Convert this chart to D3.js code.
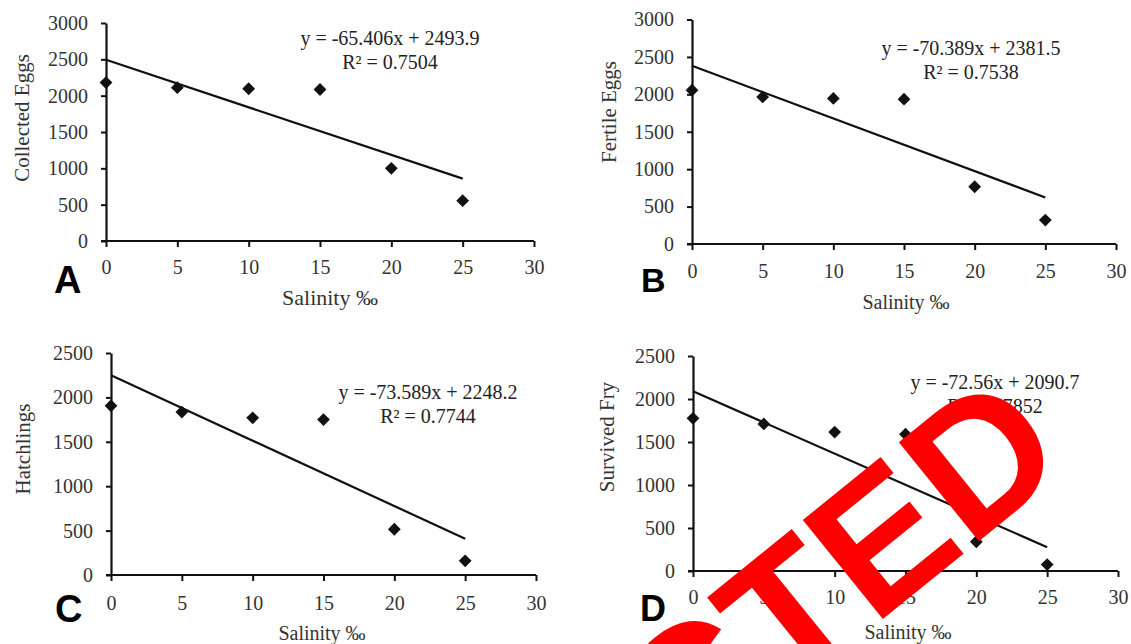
<!DOCTYPE html>
<html>
<head>
<meta charset="utf-8">
<script src="https://cdn.jsdelivr.net/npm/d3@7"></script>
<style>
  body { margin: 0; background: #fff; }
  svg { display: block; }
</style>
</head>
<body>
<div id="chart"></div>
<script>
// data
const salinity = [0, 5, 10, 15, 20, 25];
const collectedEggs = [2180, 2110, 2095, 2085, 1000, 555];
const fertileEggs = [2055, 1965, 1945, 1935, 765, 320];
const hatchlings = [1905, 1835, 1770, 1750, 515, 160];
const survivedFry = [1775, 1710, 1615, 1590, 340, 75];

const panelLetters = ['A', 'B', 'C', 'D'];
const yTitles = ['Collected Eggs', 'Fertile Eggs', 'Hatchlings', 'Survived Fry'];
const slopes = [-65.406, -70.389, -73.589, -72.56];
const intercepts = [2493.9, 2381.5, 2248.2, 2090.7];
const equations = ['y = -65.406x + 2493.9', 'y = -70.389x + 2381.5', 'y = -73.589x + 2248.2', 'y = -72.56x + 2090.7'];
const rSquared = ['R\u00b2 = 0.7504', 'R\u00b2 = 0.7538', 'R\u00b2 = 0.7744', 'R\u00b2 = 0.7852'];
const yMaxes = [3000, 3000, 2500, 2500];
const xTicks = [0, 5, 10, 15, 20, 25, 30];
const stampText = 'RETRACTED';

const series = [collectedEggs, fertileEggs, hatchlings, survivedFry];

// pixel layout of each panel (axis origin, axis ends, text spots)
const layout = [
  { x0: 106, x1: 534, y0: 241, y1: 23, pad: 12.5, yTitleX: 22, yTitleY: 118, xTitleX: 330, xTitleY: 297, xTitleSize: 22, eqX: 390, eqY: 38, letterX: 54, letterY: 293, letterSize: 38 },
  { x0: 692, x1: 1116, y0: 244, y1: 19.5, pad: 13.5, yTitleX: 609, yTitleY: 112, xTitleX: 906, xTitleY: 302, xTitleSize: 20, eqX: 971, eqY: 48, letterX: 641, letterY: 292, letterSize: 34 },
  { x0: 111, x1: 536, y0: 575, y1: 353, pad: 14.5, yTitleX: 23, yTitleY: 449, xTitleX: 322, xTitleY: 633, xTitleSize: 20, eqX: 428, eqY: 392, letterX: 55, letterY: 622, letterSize: 38 },
  { x0: 693, x1: 1118, y0: 571, y1: 356, pad: 12.5, yTitleX: 607, yTitleY: 437, xTitleX: 908, xTitleY: 632, xTitleSize: 20, eqX: 995, eqY: 382, letterX: 640, letterY: 621, letterSize: 36 }
];

const W = 1131, H = 644;
const serif = '"Liberation Serif", "Times New Roman", serif';

const svg = d3.select('#chart').append('svg')
  .attr('width', W)
  .attr('height', H);

svg.append('rect').attr('width', W).attr('height', H).attr('fill', '#fff');

series.forEach((values, i) => {
  const L = layout[i];
  const x = d3.scaleLinear().domain([0, 30]).range([L.x0, L.x1]);
  const y = d3.scaleLinear().domain([0, yMaxes[i]]).range([L.y0, L.y1]);
  const g = svg.append('g');

  // y axis
  const yAxis = d3.axisLeft(y)
    .tickValues(d3.range(0, yMaxes[i] + 1, 500))
    .tickFormat(d3.format('d'))
    .tickSize(5)
    .tickSizeOuter(0)
    .tickPadding(13);
  const ya = g.append('g').attr('transform', `translate(${L.x0},0)`).call(yAxis);

  // x axis
  const xAxis = d3.axisBottom(x)
    .tickValues(xTicks)
    .tickFormat(d3.format('d'))
    .tickSize(6)
    .tickSizeOuter(0)
    .tickPadding(L.pad);
  const xa = g.append('g').attr('transform', `translate(0,${L.y0})`).call(xAxis);

  [ya, xa].forEach(a => {
    a.attr('font-family', serif).attr('font-size', 20);
    a.select('.domain').attr('stroke', '#111').attr('stroke-width', 2.2);
    a.selectAll('.tick line').attr('stroke', '#111').attr('stroke-width', 2);
    a.selectAll('.tick text').attr('fill', '#333');
  });
  // the x axis line starts a little left of the y axis, as in Excel
  xa.select('.domain').attr('d', `M${L.x0 - 5},0H${L.x1}`);

  // axis titles
  g.append('text')
    .attr('transform', `translate(${L.yTitleX},${L.yTitleY}) rotate(-90)`)
    .attr('text-anchor', 'middle')
    .attr('dy', '0.35em')
    .attr('fill', '#333')
    .attr('font-family', serif)
    .attr('font-size', 21)
    .text(yTitles[i]);

  g.append('text')
    .attr('x', L.xTitleX)
    .attr('y', L.xTitleY)
    .attr('text-anchor', 'middle')
    .attr('dy', '0.35em')
    .attr('fill', '#333')
    .attr('font-family', serif)
    .attr('font-size', L.xTitleSize)
    .text('Salinity \u2030');

  // linear trend line over the data range
  const xr = d3.extent(salinity);
  g.append('line')
    .attr('x1', x(xr[0]))
    .attr('y1', y(intercepts[i] + slopes[i] * xr[0]))
    .attr('x2', x(xr[1]))
    .attr('y2', y(intercepts[i] + slopes[i] * xr[1]))
    .attr('stroke', '#111')
    .attr('stroke-width', 2.2);

  // diamond markers
  g.selectAll('path.pt')
    .data(values)
    .join('path')
    .attr('class', 'pt')
    .attr('d', d3.symbol(d3.symbolSquare, 82))
    .attr('transform', (d, k) => `translate(${x(salinity[k])},${y(d)}) rotate(45)`)
    .attr('fill', '#111');

  // equation and R squared
  g.append('text')
    .attr('x', L.eqX)
    .attr('y', L.eqY)
    .attr('dy', '0.35em')
    .attr('text-anchor', 'middle')
    .attr('fill', '#222')
    .attr('font-family', serif)
    .attr('font-size', 20)
    .text(equations[i]);
  g.append('text')
    .attr('x', L.eqX)
    .attr('y', L.eqY + 24)
    .attr('dy', '0.35em')
    .attr('text-anchor', 'middle')
    .attr('fill', '#222')
    .attr('font-family', serif)
    .attr('font-size', 20)
    .text(rSquared[i]);

  // panel letter
  g.append('text')
    .attr('x', L.letterX)
    .attr('y', L.letterY)
    .attr('fill', '#000')
    .attr('font-family', '"Liberation Sans", Arial, sans-serif')
    .attr('font-weight', 'bold')
    .attr('font-size', L.letterSize)
    .text(panelLetters[i]);
});

// red stamp across the lower right, mostly cut off by the frame
svg.append('text')
  .attr('transform', 'translate(1073,465) rotate(-39)')
  .attr('text-anchor', 'end')
  .attr('fill', '#ff0000')
  .attr('font-family', '"Liberation Sans", Arial, sans-serif')
  .attr('font-weight', 'bold')
  .attr('font-size', 185)
  .text(stampText);
</script>
</body>
</html>
